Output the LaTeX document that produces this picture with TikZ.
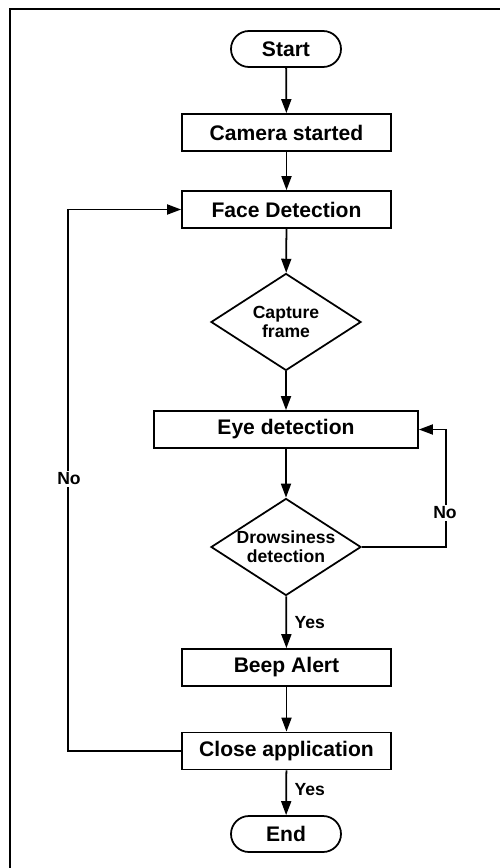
\documentclass[tikz,border=0pt]{standalone}
\usepackage{fontspec}
\setmainfont{Liberation Sans}
\usetikzlibrary{shapes,arrows.meta,positioning}

\begin{document}
\begin{tikzpicture}[
	font=\bfseries\fontsize{12}{14}\selectfont,
	line width=1pt,
	procbox/.style={draw, minimum width=4.18cm, minimum height=0.74cm, inner sep=0pt},
	termbox/.style={draw, rounded rectangle, minimum width=2.2cm, minimum height=0.72cm, inner sep=0pt},
	decision/.style={draw, diamond, aspect=1.55, minimum width=3cm, minimum height=1.94cm, inner sep=0pt, align=center, font=\bfseries\fontsize{10}{11}\selectfont},
	flow/.style={-{Triangle[length=0.28cm,width=0.2cm]}},
	lbl/.style={font=\bfseries\fontsize{10}{12}\selectfont, inner sep=1pt}
]
				\useasboundingbox (0,0) rectangle (9.98,-17.36);

				% Frame
				\draw[line width=1.3pt] (0.2,-17.5) -- (0.2,-0.18) -- (10.1,-0.18);

				% Main column
				\node[termbox] (start) at (5.72,-0.98) {Start};
				\node[procbox] (camera) at (5.73,-2.65) {Camera started};
				\node[procbox] (face) at (5.73,-4.19) {Face Detection};
				\node[decision] (capture) at (5.72,-6.44) {Capture\\frame};
				\node[procbox, minimum width=5.28cm] (eye) at (5.72,-8.59) {Eye detection};
				\node[decision] (drowsy) at (5.72,-10.94) {Drowsiness\\detection};
				\node[procbox] (beep) at (5.73,-13.35) {Beep Alert};
				\node[procbox] (close) at (5.73,-15.02) {Close application};
				\node[termbox] (end) at (5.72,-16.68) {End};

				% Straight arrows
				\draw[flow] (start) -- (camera);
				\draw[flow] (camera) -- (face);
				\draw[flow] (face) -- (capture);
				\draw[flow] (capture) -- (eye);
				\draw[flow] (eye) -- (drowsy);
				\draw[flow] (drowsy) -- (beep);
				\draw[flow] (beep) -- (close);
				\draw[flow] (close) -- (end);
				\node[lbl, anchor=west] (yesbeep) at (5.84,-12.46) {Yes};
				\node[lbl, anchor=west] (yesend) at (5.84,-15.8) {Yes};

				% Loops back
				\draw[flow] (drowsy.east) -- ++(1.68,0) |- (eye.east);
				\node[lbl, fill=white] (noright) at (8.9,-10.26) {No};
				\draw[flow] (close.west) -- ++(-2.26,0) |- (face.west);
				\node[lbl, fill=white] (noleft) at (1.38,-9.58) {No};
			\end{tikzpicture}
\end{document}
